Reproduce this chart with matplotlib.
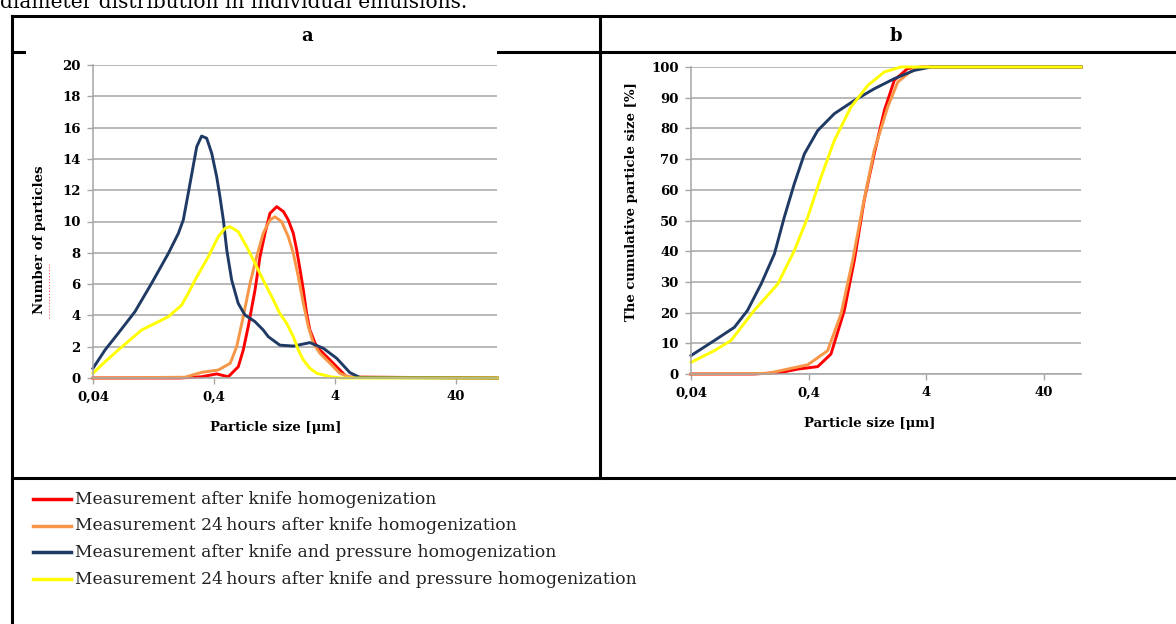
import matplotlib
matplotlib.use("Agg")
import matplotlib.pyplot as plt
from matplotlib.lines import Line2D
from matplotlib.patches import Rectangle
from matplotlib.ticker import FixedLocator, NullLocator

W, H = 1176, 624

labels = ["Measurement after knife homogenization",
          "Measurement 24\u2009hours after knife homogenization",
          "Measurement after knife and pressure homogenization",
          "Measurement 24\u2009hours after knife and pressure homogenization"]
colors = ["#ff0000", "#f79646", "#1f3a64", "#ffff00"]

xtick_vals = [0.04, 0.4, 4, 40]
xtick_labels = ["0,04", "0,4", "4", "40"]

# panel a - number of particles, particle size in um
a_red_x = [0.04, 0.21, 0.316, 0.421, 0.525, 0.635, 0.698, 0.768, 0.873, 0.96, 1.055, 1.16, 1.32, 1.50,
           1.644, 1.81, 1.93, 2.06, 2.19, 2.33, 2.48, 2.74, 3.0, 3.42, 4.13, 5.0, 87.3]
a_red_y = [0, 0, 0.08, 0.26, 0.08, 0.72, 1.79, 3.3, 5.62, 7.75, 9.24, 10.52, 10.95, 10.63,
           10.1, 9.24, 8.18, 6.9, 5.62, 4.13, 3.07, 2.22, 1.79, 1.36, 0.72, 0.06, 0]
a_org_x = [0.04, 0.23, 0.316, 0.434, 0.545, 0.616, 0.698, 0.794, 0.90, 1.02, 1.16, 1.277, 1.45, 1.644,
           1.81, 1.99, 2.19, 2.41, 2.65, 3.0, 3.64, 4.38, 5.32, 87.3]
a_org_y = [0, 0.05, 0.36, 0.51, 0.94, 2.0, 3.92, 6.05, 7.75, 9.24, 10.1, 10.3, 9.99, 9.03,
           7.97, 6.47, 4.77, 3.28, 2.22, 1.58, 0.94, 0.3, 0.05, 0]
a_navy_x = [0.04, 0.0503, 0.0647, 0.0889, 0.122, 0.168, 0.203, 0.223, 0.245, 0.288, 0.316, 0.348,
            0.383, 0.421, 0.448, 0.478, 0.51, 0.56, 0.634, 0.72, 0.873, 1.02, 1.124, 1.40, 1.81,
            2.48, 3.2, 4.13, 5.32, 6.44, 87.3]
a_navy_y = [0.62, 1.79, 2.86, 4.24, 6.05, 7.97, 9.24, 10.1, 11.8, 14.78, 15.46, 15.32,
            14.36, 12.86, 11.58, 10.1, 8.18, 6.26, 4.77, 4.03, 3.6, 3.07, 2.64, 2.1, 2.04,
            2.26, 1.9, 1.26, 0.34, 0.03, 0]
a_yel_x = [0.04, 0.0503, 0.0647, 0.101, 0.13, 0.168, 0.216, 0.245, 0.279, 0.359, 0.434, 0.493, 0.542,
           0.634, 0.745, 0.873, 1.02, 1.2, 1.40, 1.596, 1.81, 1.99, 2.19, 2.48, 2.83, 3.64, 4.5, 87.3]
a_yel_y = [0.3, 1.04, 1.79, 3.07, 3.49, 3.92, 4.66, 5.41, 6.26, 7.75, 9.03, 9.56, 9.67,
           9.35, 8.39, 7.33, 6.26, 5.2, 4.13, 3.49, 2.64, 1.79, 1.15, 0.62, 0.3, 0.08, 0, 0]

# panel b - cumulative particle size [%]
b_red_x = [0.04, 0.138, 0.233, 0.324, 0.479, 0.621, 0.807, 0.982, 1.19, 1.45, 1.77, 2.15, 2.79, 3.62, 83.4]
b_red_y = [0, 0, 0.5, 1.6, 2.4, 6.5, 20.7, 37.0, 56.5, 71.7, 85.9, 95.7, 99.5, 100, 100]
b_org_x = [0.04, 0.18, 0.266, 0.394, 0.582, 0.757, 0.95, 1.156, 1.45, 1.89, 2.30, 3.18, 4.2, 83.4]
b_org_y = [0, 0.2, 1.6, 3.0, 7.6, 19.6, 37.0, 54.3, 72.8, 87.0, 95.1, 99.5, 100, 100]
b_navy_x = [0.04, 0.0632, 0.0935, 0.121, 0.158, 0.205, 0.249, 0.303, 0.369, 0.479, 0.664, 0.982,
            1.45, 2.15, 3.18, 4.42, 83.4]
b_navy_y = [6.0, 10.9, 15.2, 20.7, 29.3, 39.1, 51.1, 62.0, 71.7, 79.3, 84.8, 89.1,
            92.9, 96.2, 98.9, 100, 100]
b_yel_x = [0.04, 0.0632, 0.0875, 0.138, 0.219, 0.303, 0.394, 0.511, 0.664, 0.92, 1.28, 1.77, 2.45, 83.4]
b_yel_y = [3.8, 7.6, 10.9, 20.7, 29.3, 40.2, 51.1, 64.1, 76.1, 87.0, 94.0, 98.4, 100, 100]


def fx(px):
    return px / W


def fy(py):
    return 1 - py / H


serif = "DejaVu Serif"
fig = plt.figure(figsize=(W / 100, H / 100), dpi=100)

# table frame
for x0, y0, x1, y1 in [(12, 16, 1176, 16), (12, 52, 1176, 52), (12, 478, 1176, 478),
                       (12, 16, 12, 624), (600, 16, 600, 478)]:
    fig.add_artist(Line2D([fx(x0), fx(x1)], [fy(y0), fy(y1)], color="black", lw=2.2))
# the chart picture of panel a covers a bit of the header line
fig.add_artist(Rectangle((fx(26), fy(56)), fx(497) - fx(26), fy(50) - fy(56),
                         facecolor="white", edgecolor="none", zorder=5))

fig.text(fx(0), fy(8), "diameter distribution in individual emulsions.", fontsize=14.5,
         family=serif, va="baseline", ha="left")
fig.text(fx(307), fy(36), "a", fontsize=13, family=serif, weight="bold", ha="center", va="center")
fig.text(fx(896), fy(36), "b", fontsize=13, family=serif, weight="bold", ha="center", va="center")


def style(ax, ymax, ystep, xmax):
    ax.set_xscale("log")
    ax.set_xlim(0.04, xmax)
    ax.set_ylim(0, ymax)
    ax.xaxis.set_major_locator(FixedLocator(xtick_vals))
    ax.xaxis.set_minor_locator(NullLocator())
    ax.set_xticklabels(xtick_labels)
    ax.set_yticks(range(0, ymax + 1, ystep))
    ax.yaxis.grid(True, color="#a6a6a6", lw=1.1)
    ax.set_axisbelow(True)
    for s in ["top", "right"]:
        ax.spines[s].set_visible(False)
    for s in ["left", "bottom"]:
        ax.spines[s].set_color("#a6a6a6")
        ax.spines[s].set_linewidth(1.1)
    ax.tick_params(length=4, width=1, color="#a6a6a6", labelsize=9.5, pad=5)
    for t in ax.get_xticklabels() + ax.get_yticklabels():
        t.set_fontfamily(serif)
        t.set_fontweight("bold")


ax_a = fig.add_axes([fx(93), fy(378), fx(497) - fx(93), fy(65) - fy(378)])
series_a = [(a_red_x, a_red_y), (a_org_x, a_org_y), (a_navy_x, a_navy_y), (a_yel_x, a_yel_y)]
for (xs, ys), c in zip(series_a, colors):
    ax_a.plot(xs, ys, color=c, lw=2.1, clip_on=False, solid_joinstyle="round")
style(ax_a, 20, 2, 87.3)

ax_b = fig.add_axes([fx(691), fy(374), fx(1081) - fx(691), fy(67) - fy(374)])
series_b = [(b_red_x, b_red_y), (b_org_x, b_org_y), (b_navy_x, b_navy_y), (b_yel_x, b_yel_y)]
for (xs, ys), c in zip(series_b, colors):
    ax_b.plot(xs, ys, color=c, lw=2.1, clip_on=False, solid_joinstyle="round")
style(ax_b, 100, 10, 83.4)

lab = dict(fontsize=9.5, family=serif, weight="bold", ha="center", va="center")
fig.text(fx(276), fy(427), "Particle size [\u03bcm]", **lab)
fig.text(fx(870), fy(423), "Particle size [\u03bcm]", **lab)
fig.text(fx(40), fy(240), "Number of particles", rotation=90, **lab)
fig.text(fx(631), fy(202), "The cumulative particle size [%]", rotation=90, **lab)
fig.add_artist(Line2D([fx(49), fx(49)], [fy(318), fy(262)], color="#ff6060", lw=0.8, ls=":"))

# legend
for i, (txt, c) in enumerate(zip(labels, colors)):
    y = fy(499 + 26.7 * i)
    fig.add_artist(Line2D([fx(33), fx(71)], [y, y], color=c, lw=2.5))
    fig.text(fx(75), y, txt, fontsize=12.3, family=serif, color="#222222", ha="left", va="center")

fig.savefig("out.png", dpi=100)
